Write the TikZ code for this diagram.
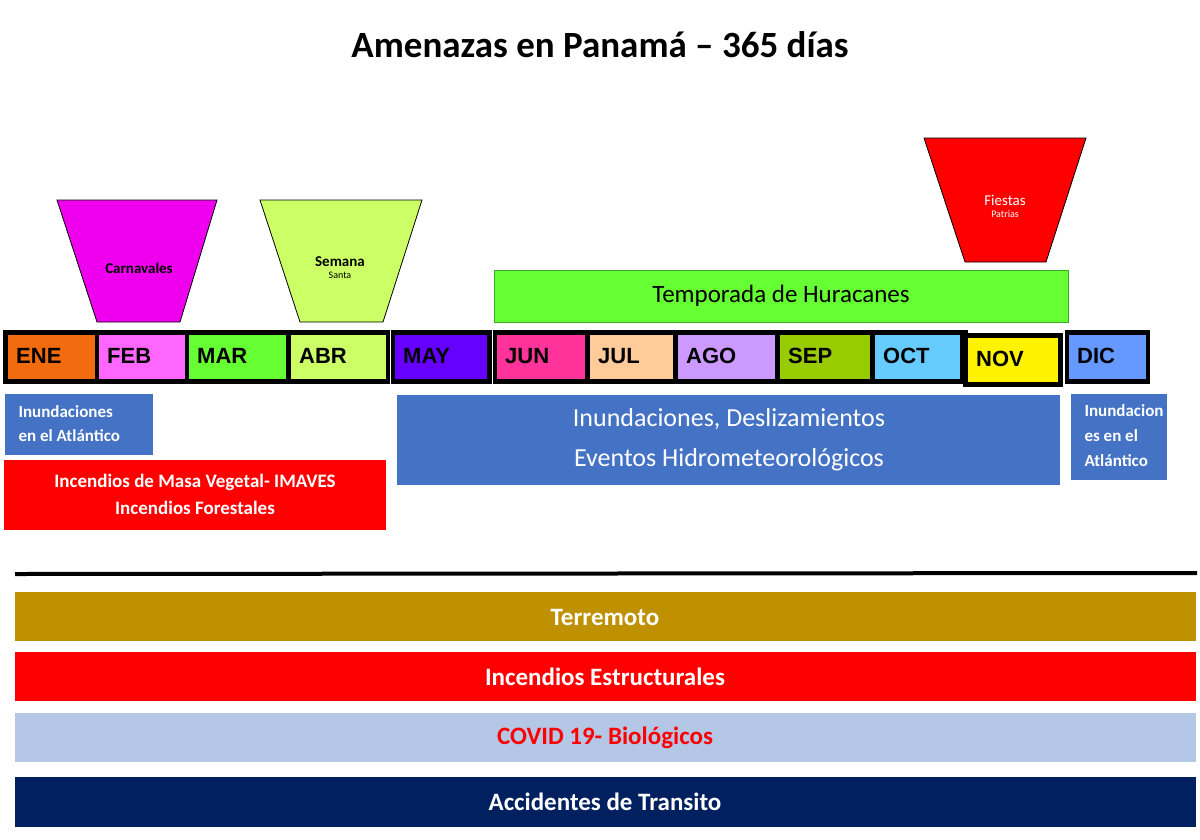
\documentclass[tikz,border=0pt]{standalone}
\usepackage{fontspec}
\setmainfont{Carlito}
\newfontfamily\arialf{Liberation Sans}
\definecolor{blue1}{HTML}{4472C4}
\definecolor{carnc}{HTML}{EE00EE}
\definecolor{semc}{HTML}{CCFF66}
\definecolor{tempb}{HTML}{3CAA28}
\definecolor{tempf}{HTML}{66FF33}
\definecolor{terc}{HTML}{BF9000}
\definecolor{covc}{HTML}{B4C7E7}
\definecolor{accc}{HTML}{002060}
\begin{document}
\begin{tikzpicture}[x=1pt,y=-1pt,
  trap/.style={draw=black,line width=0.8pt},
  mon/.style={inner sep=0pt,font=\arialf\bfseries\fontsize{22}{24}\selectfont,text=black},
  bar/.style={inner sep=0pt,text=white,font=\bfseries\fontsize{25}{28}\selectfont}]
\useasboundingbox (0,0) rectangle (1200,839);
\node (title) at (600,45) {\bfseries\fontsize{37}{40}\selectfont Amenazas en Panamá – 365 días};
% trapezoids
\draw[trap,fill=carnc] (57,200)--(217,200)--(180,322)--(97,322)--cycle;
\node (carn) at (139,268) {\bfseries\fontsize{15}{18}\selectfont Carnavales};
\draw[trap,fill=semc] (260,200)--(422,200)--(383,322)--(300,322)--cycle;
\node[align=center] (sem) at (340,268) {\bfseries\fontsize{15}{23}\selectfont Semana\\ Santa};
\draw[trap,fill=red] (924,138)--(1086,138)--(1046,262)--(965,262)--cycle;
\node[align=center,text=white] (fp) at (1005,206) {\fontsize{15}{23}\selectfont Fiestas\\ Patrias};
\node[draw=tempb,line width=1pt,fill=tempf,minimum width=574,minimum height=52,inner sep=0pt,font=\fontsize{25}{28}\selectfont] (temp) at (781,296) {Temporada de Huracanes};
% month groups
\fill[black] (3,330) rectangle (390,384);
\fill[black] (391,330) rectangle (492,384);
\fill[black] (493,330) rectangle (968,384);
\fill[black] (963,333) rectangle (1063,387);
\fill[black] (1065,330) rectangle (1150,384);
\foreach \n/\a/\b/\c/\t in {ene/8/95/F26B0F/ENE,feb/99/185/FF66FF/FEB,mar/189/286/66FF33/MAR,abr/291/386/CCFF66/ABR,may/395/487/6600FF/MAY,jun/497/585/FF3399/JUN,jul/590/673/FFCC99/JUL,ago/678/775/CC99FF/AGO,sep/780/870/99CC00/SEP,oct/875/960/66CCFF/OCT,dic/1069/1146/6699FF/DIC}{
  \definecolor{mc}{HTML}{\c}
  \fill[mc] (\a,335) rectangle (\b,379);
  \node[mon,anchor=west] (\n) at (\a+8,356) {\t};
}
\fill[yellow] (968,338) rectangle (1058,382);
\node[mon,anchor=west] (nov) at (976,359) {NOV};
% hazards
\fill[blue1] (5,394) rectangle (153,455);
\node[anchor=west,align=left,text=white,font=\bfseries\fontsize{17}{24}\selectfont] (inl) at (15,424) {Inundaciones\\en el Atlántico};
\fill[blue1] (397,395) rectangle (1060,485);
\node[align=center,text=white,font=\fontsize{26}{40}\selectfont] (inc) at (729,440) {Inundaciones, Deslizamientos\\Eventos Hidrometeorológicos};
\fill[blue1] (1071,394) rectangle (1167,480);
\node[anchor=west,align=left,text=white,font=\bfseries\fontsize{17}{25}\selectfont] (inr) at (1081,436) {Inundacion\\es en el\\Atlántico};
\fill[red] (4,460) rectangle (386,530);
\node[align=center,text=white,font=\bfseries\fontsize{19}{27}\selectfont] (imaves) at (195,494) {Incendios de Masa Vegetal- IMAVES\\Incendios Forestales};
\draw[line width=4pt] (15,574) -- (1197,573);
\fill[terc] (15,592) rectangle (1196,641);
\node[bar] (t1) at (605,617) {Terremoto};
\fill[red] (15,652) rectangle (1196,701);
\node[bar] (t2) at (605,677) {Incendios Estructurales};
\fill[covc] (15,713) rectangle (1196,762);
\node[bar,text=red] (t3) at (605,738) {COVID 19- Biológicos};
\fill[accc] (15,777) rectangle (1196,827);
\node[bar] (t4) at (605,802) {Accidentes de Transito};
\end{tikzpicture}
\end{document}
